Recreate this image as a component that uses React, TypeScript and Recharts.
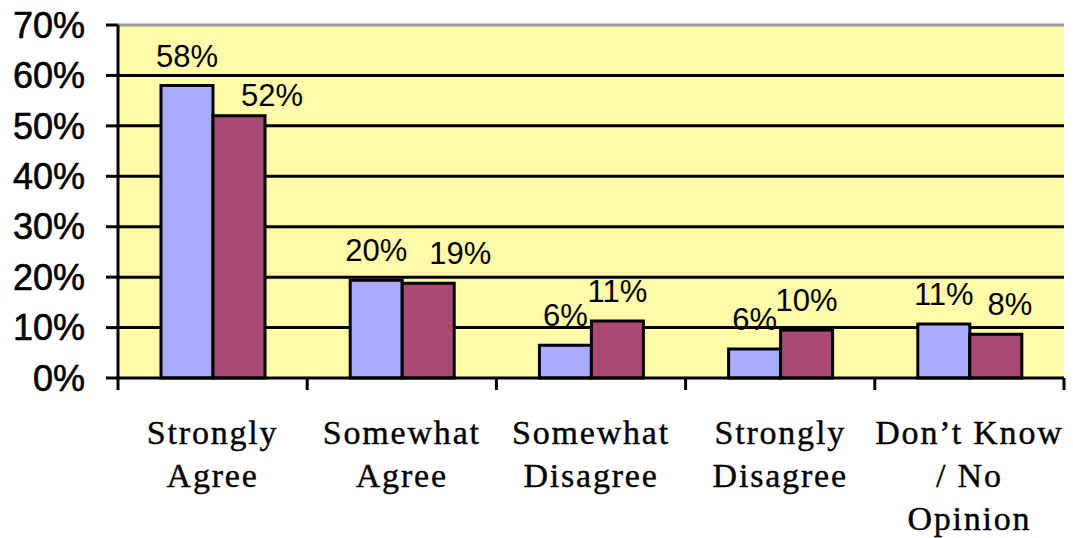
import React from 'react';
import { BarChart, Bar, XAxis, YAxis, CartesianGrid, ReferenceLine, LabelList } from 'recharts';

const categories = [
  ['Strongly', 'Agree'],
  ['Somewhat', 'Agree'],
  ['Somewhat', 'Disagree'],
  ['Strongly', 'Disagree'],
  ['Don’t Know', '/ No', 'Opinion'],
];
const seriesA = [58, 19.4, 6.5, 5.75, 10.7];
const seriesB = [52, 18.8, 11.3, 9.5, 8.7];
const labelsA = ['58%', '20%', '6%', '6%', '11%'];
const labelsB = ['52%', '19%', '11%', '10%', '8%'];
const yTicks = [0, 10, 20, 30, 40, 50, 60, 70];

const W = 1073;
const H = 538;
const LEFT = 118;
const RIGHT = 9;
const TOP = 25;
const BOTTOM = 160;
const BAND = (W - LEFT - RIGHT) / categories.length;

const SANS = '"Liberation Sans", Arial, sans-serif';
const SERIF = '"Liberation Serif", "Times New Roman", serif';

// label nudges (dx, dy) for the second series, as placed in the original
const nudgeB = [[33, 9], [32, 0], [0, 0], [0, 0], [14, 0]];

const data = categories.map((c, i) => ({ name: c.join(' '), a: seriesA[i], b: seriesB[i], idx: i }));

function CategoryTick(props: any) {
  const { x, y, payload, index } = props;
  const lines = categories[payload.index ?? index];
  const left = x - BAND / 2;
  const right = x + BAND / 2;
  return (
    <g>
      <line x1={left} x2={left} y1={y} y2={y + 12} stroke="#000" strokeWidth={3} />
      {index === categories.length - 1 && (
        <line x1={right} x2={right} y1={y} y2={y + 12} stroke="#000" strokeWidth={3} />
      )}
      <text
        x={x}
        y={y + 66}
        textAnchor="middle"
        fontFamily={SERIF}
        fontSize={34}
        letterSpacing={1.8}
        fill="#000"
        stroke="#000"
        strokeWidth={0.4}
      >
        {lines.map((l, i) => (
          <tspan key={i} x={x} dy={i === 0 ? 0 : 43}>{l}</tspan>
        ))}
      </text>
    </g>
  );
}

const makeLabel = (texts: string[], nudge?: number[][]) => (props: any) => {
  const { x, y, width, index } = props;
  const n = nudge ? nudge[index] : [0, 0];
  return (
    <text x={x + width / 2 + n[0]} y={y - 19 + n[1]} textAnchor="middle" fontFamily={SANS} fontSize={31} fill="#000">
      {texts[index]}
    </text>
  );
};

export default function App() {
  return (
    <div style={{ position: 'absolute', left: 0, top: 0, width: W, height: H, background: '#fff' }}>
      <BarChart
        width={W}
        height={H}
        data={data}
        margin={{ top: TOP, right: RIGHT, left: 0, bottom: 0 }}
        barGap={0}
        barSize={52}
      >
        <CartesianGrid
          vertical={false}
          horizontalValues={yTicks.filter((v) => v > 0 && v < 70)}
          fill="#FFFBAA"
          fillOpacity={1}
          stroke="#000"
          strokeWidth={3}
        />
        <XAxis
          dataKey="name"
          height={BOTTOM}
          tickLine={false}
          tickSize={0}
          tickMargin={0}
          interval={0}
          axisLine={{ stroke: '#000', strokeWidth: 3 }}
          tick={<CategoryTick />}
        />
        <YAxis
          width={LEFT}
          domain={[0, 70]}
          ticks={yTicks}
          interval={0}
          tickFormatter={(v) => `${v}%`}
          tickSize={12}
          tickMargin={21}
          tickLine={{ stroke: '#000', strokeWidth: 3 }}
          axisLine={{ stroke: '#000', strokeWidth: 3 }}
          tick={{ fill: '#000', fontSize: 36, fontFamily: SANS, stroke: '#000', strokeWidth: 0.6 }}
        />
        <YAxis
          yAxisId="r"
          orientation="right"
          width={0}
          domain={[0, 70]}
          tick={false}
          tickLine={false}
          axisLine={{ stroke: '#999', strokeWidth: 3 }}
        />
        <ReferenceLine y={70} stroke="#999" strokeWidth={3} />
        <Bar dataKey="a" fill="#AAAAFF" stroke="#000" strokeWidth={3} isAnimationActive={false}>
          <LabelList dataKey="a" content={makeLabel(labelsA)} />
        </Bar>
        <Bar dataKey="b" fill="#A84A74" stroke="#000" strokeWidth={3} isAnimationActive={false}>
          <LabelList dataKey="b" content={makeLabel(labelsB, nudgeB)} />
        </Bar>
      </BarChart>
    </div>
  );
}
